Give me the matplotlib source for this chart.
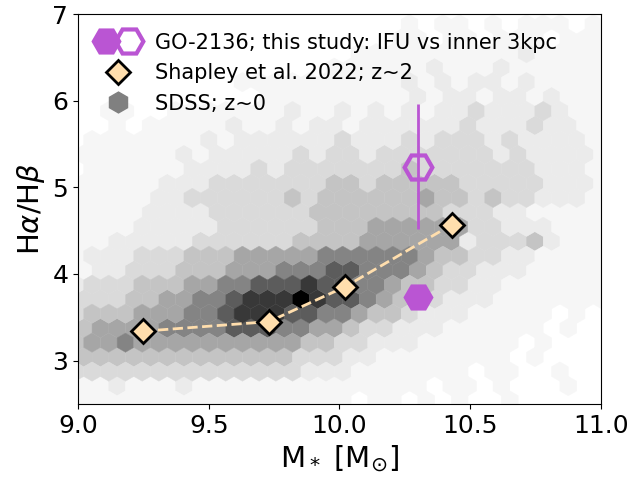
import numpy as np
import matplotlib.pyplot as plt
from matplotlib.colors import ListedColormap
from matplotlib.lines import Line2D
from matplotlib.legend_handler import HandlerTuple

# SDSS z~0: shade of each hexagon (0 = empty, 9 = densest), top row first.
# Rows alternate between the two hexbin lattices (first row is the shifted one).
sdss_rows = [
    "0000 0000 0000 0000 0000 1011 0101 1101",
    "0000 0000 0000 0000 0000 1101 1011 1011 1",
    "0000 0000 0000 0000 0111 1111 1112 1111",
    "0000 0000 0000 0000 1111 1121 1121 1111 1",
    "0000 0000 0011 1111 1111 2121 2212 1111",
    "0000 0000 0000 1111 1111 1212 2122 1211 1",
    "00110 01111 1112112121 212232223211",
    "000101 111121 121221222 222322232211",
    "011111 112122 22223222 323332322221",
    "011111 121222 223233233 333332322221",
    "011111 122223 23333333 433333332221",
    "111111 222333 333344344 444333332221",
    "111112 233333 34344444 454434332221",
    "111112 222333 333444444 443332211111",
    "111122 222333 33344455 555533222111",
    "111222 223333 334444555 555233342111",
    "122233 344455 55566666 654433221111",
    "112233 344455 566677666 543322211111",
    "233344 455667 77877665 443322111111",
    "233344 556678 889877654 432221111111",
    "344455 566788 87766544 322211111010",
    "445555 666677 766554332 221111110100",
    "455655 555555 55443322 211111101000",
    "344444 444444 443332211 111111010000",
    "333333 333333 33222111 111101100100",
    "111211 121111 111111111 101101000100",
    "111111 111111 11111011 010100100000",
]

# grey used for shade levels 1..9
sdss_greys = ["#f6f6f6", "#ebebeb", "#dadada", "#c4c4c4", "#a6a6a6",
              "#848484", "#5c5c5c", "#383838", "#000000"]

# Shapley et al. 2022, z~2 stacks
shapley_mass = [9.25, 9.73, 10.02, 10.43]
shapley_decrement = [3.34, 3.45, 3.85, 4.57]

# GO-2136: IFU (filled) and inner 3 kpc (open)
go_mass = [10.30]
go_ifu = [3.74]
go_inner = [5.24]
go_inner_err = [0.72]

purple = "mediumorchid"
diamond_face = "navajowhite"

# hex lattice of the SDSS map
sx, sy = 0.0639, 0.334
x_first, y_first = 8.958, 6.882
xmin, ymin = x_first - sx, 2.373
nx, ny = 36, 15

xs, ys, cs = [], [], []
for r, row in enumerate(sdss_rows):
    cells = row.replace(" ", "")
    y = y_first - r * sy / 2
    x0 = x_first + (sx / 2 if r % 2 == 0 else 0.0)
    for i, c in enumerate(cells):
        if c != "0":
            xs.append(x0 + i * sx)
            ys.append(y)
            cs.append(int(c))

fig = plt.figure(figsize=(6.36, 4.83), dpi=100)
ax = fig.add_axes([0.1226, 0.1636, 0.8223, 0.8074])

ax.hexbin(xs, ys, C=cs, gridsize=(nx, ny),
          extent=(xmin, xmin + nx * sx, ymin, ymin + ny * sy),
          reduce_C_function=np.max, cmap=ListedColormap(sdss_greys),
          vmin=0.5, vmax=9.5, linewidths=0.3, zorder=1)

ax.plot(shapley_mass, shapley_decrement, "--", color=diamond_face, lw=2, zorder=2)
shap, = ax.plot(shapley_mass, shapley_decrement, "D", ls="none", ms=12,
                mfc=diamond_face, mec="black", mew=2, zorder=3)

ifu, = ax.plot(go_mass, go_ifu, "H", ls="none", ms=20, mfc=purple,
               mec=purple, mew=1.5, zorder=4)
eb = ax.errorbar(go_mass, go_inner, yerr=go_inner_err, fmt="H", ms=20,
                 mfc="none", mec=purple, mew=3, ecolor=purple,
                 elinewidth=2, zorder=4)
inner = eb.lines[0]

sdss_proxy = Line2D([], [], marker="h", ls="none", ms=15, color="grey")

ax.legend([(ifu, inner), shap, sdss_proxy],
          ["GO-2136; this study: IFU vs inner 3kpc",
           "Shapley et al. 2022; z~2", "SDSS; z~0"],
          handler_map={tuple: HandlerTuple(ndivide=None, pad=0.2)},
          loc="upper left", fontsize=15, frameon=False)

ax.set_xlim(9.0, 11.0)
ax.set_ylim(2.5, 7.0)
ax.set_xticks([9.0, 9.5, 10.0, 10.5, 11.0])
ax.set_yticks([3, 4, 5, 6, 7])
ax.tick_params(labelsize=18)
ax.set_xlabel(r"M$_*$ [M$_{\odot}$]", fontsize=21)
ax.set_ylabel(r"H$\alpha$/H$\beta$", fontsize=21)

fig.savefig("out.png", dpi=100)
